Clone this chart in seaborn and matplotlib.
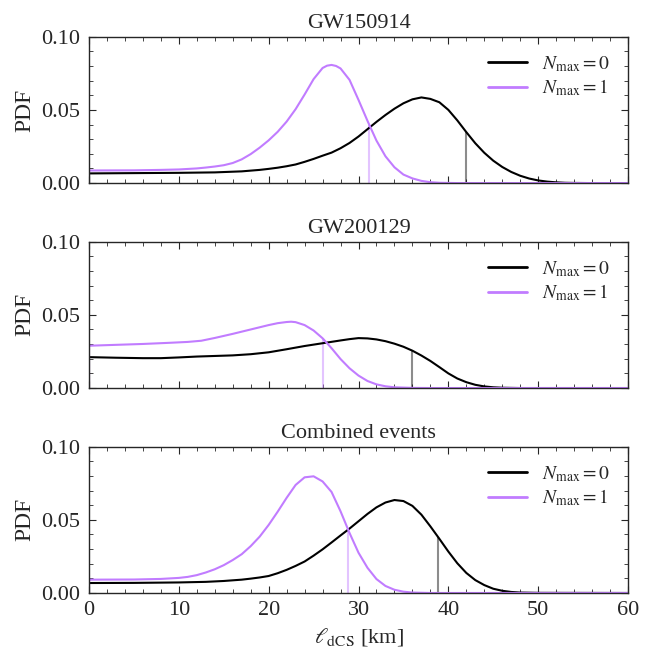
import numpy as np
import pandas as pd
import matplotlib
matplotlib.use("Agg")
import matplotlib.pyplot as plt
import seaborn as sns
from matplotlib.ticker import MultipleLocator, FormatStrFormatter

# ---------------- data ----------------
titles = ["GW150914", "GW200129", "Combined events"]
series_labels = [r"$N_{\max} = 0$", r"$N_{\max} = 1$"]

# GW150914
gw1_n0_x = [0, 5, 10, 14, 17, 19, 20, 21, 22, 23, 24, 25, 26, 27, 28, 29, 30, 31, 32, 33,
            34, 35, 36, 37, 38, 39, 40, 41, 42, 43, 44, 45, 46, 47, 48, 49, 50, 51, 52, 53,
            54, 56, 60]
gw1_n0_y = [0.0066, 0.0068, 0.0070, 0.0073, 0.0080, 0.0090, 0.0097, 0.0105, 0.0115, 0.0127,
            0.0145, 0.0165, 0.0187, 0.0208, 0.0238, 0.0274, 0.0318, 0.0368, 0.0418, 0.0465,
            0.0508, 0.0545, 0.0572, 0.0585, 0.0575, 0.0552, 0.0500, 0.0428, 0.0348, 0.0272,
            0.0207, 0.0153, 0.0110, 0.0076, 0.0050, 0.0031, 0.0018, 0.0010, 0.0005, 0.0002,
            0.0001, 0.0, 0.0]
gw1_n1_x = [0, 5, 8, 10, 12, 13, 14, 15, 16, 17, 18, 19, 20, 21, 22, 23, 24, 25, 26, 26.5,
            27, 27.5, 28, 29, 30, 31, 32, 33, 34, 35, 36, 37, 38, 39, 41, 60]
gw1_n1_y = [0.0086, 0.0087, 0.0090, 0.0093, 0.0100, 0.0106, 0.0113, 0.0122, 0.0137, 0.0162,
            0.0198, 0.0242, 0.0292, 0.0350, 0.0420, 0.0505, 0.0605, 0.0710, 0.0786, 0.0802,
            0.0807, 0.0800, 0.0783, 0.0705, 0.0568, 0.0425, 0.0290, 0.0183, 0.0108, 0.0058,
            0.0032, 0.0015, 0.0006, 0.0002, 0.0, 0.0]

# GW200129
gw2_n0_x = [0, 3, 6, 8, 10, 12, 14, 16, 18, 20, 22, 24, 26, 28, 29, 30, 31, 32, 33, 34,
            35, 36, 37, 38, 39, 40, 41, 42, 43, 44, 45, 46, 48, 60]
gw2_n0_y = [0.0211, 0.0207, 0.0204, 0.0204, 0.0209, 0.0215, 0.0219, 0.0223, 0.0231, 0.0244,
            0.0265, 0.0287, 0.0306, 0.0325, 0.0334, 0.0341, 0.0339, 0.0332, 0.0320, 0.0303,
            0.0282, 0.0255, 0.0222, 0.0185, 0.0143, 0.0100, 0.0065, 0.0040, 0.0022, 0.0011,
            0.0005, 0.0002, 0.0, 0.0]
gw2_n1_x = [0, 3, 6, 9, 11, 12.5, 14, 16, 18, 19, 20, 21, 22, 22.5, 23, 24, 25, 26, 27, 28,
            29, 30, 31, 32, 33, 34, 36, 38, 60]
gw2_n1_y = [0.0289, 0.0295, 0.0301, 0.0309, 0.0315, 0.0323, 0.0342, 0.0370, 0.0400, 0.0415,
            0.0430, 0.0443, 0.0451, 0.0453, 0.0450, 0.0430, 0.0393, 0.0340, 0.0272, 0.0198,
            0.0135, 0.0085, 0.0048, 0.0025, 0.0012, 0.0005, 0.0001, 0.0, 0.0]

# Combined events
gw3_n0_x = [0, 5, 10, 13, 15, 17, 18, 19, 20, 21, 22, 23, 24, 25, 26, 27, 28, 29, 30, 31,
            32, 33, 34, 35, 36, 37, 38, 39, 40, 41, 42, 43, 44, 45, 46, 47, 48, 50, 60]
gw3_n0_y = [0.0068, 0.0069, 0.0072, 0.0076, 0.0082, 0.0091, 0.0098, 0.0106, 0.0116, 0.0135,
            0.0158, 0.0185, 0.0215, 0.0255, 0.0298, 0.0345, 0.0393, 0.0440, 0.0490, 0.0540,
            0.0585, 0.0618, 0.0635, 0.0628, 0.0595, 0.0535, 0.0455, 0.0370, 0.0283, 0.0203,
            0.0137, 0.0088, 0.0054, 0.0029, 0.0015, 0.0007, 0.0003, 0.0001, 0.0]
gw3_n1_x = [0, 5, 8, 10, 11, 12, 13, 14, 15, 16, 17, 18, 19, 20, 21, 22, 23, 24, 25, 26,
            27, 28, 29, 30, 31, 32, 33, 34, 35, 36, 38, 60]
gw3_n1_y = [0.0091, 0.0092, 0.0096, 0.0103, 0.0110, 0.0122, 0.0140, 0.0162, 0.0190, 0.0225,
            0.0265, 0.0320, 0.0385, 0.0465, 0.0555, 0.0650, 0.0738, 0.0790, 0.0797, 0.0762,
            0.0690, 0.0558, 0.0410, 0.0275, 0.0172, 0.0095, 0.0048, 0.0022, 0.0009, 0.0003,
            0.0, 0.0]

# credible-bound markers (x position, height) for N=0 and N=1
bound_n0_x = [42.0, 36.0, 38.85]
bound_n0_h = [0.0348, 0.0255, 0.0383]
bound_n1_x = [31.2, 26.0, 28.85]
bound_n1_h = [0.0398, 0.0340, 0.0432]

panels = [
    (gw1_n0_x, gw1_n0_y, gw1_n1_x, gw1_n1_y),
    (gw2_n0_x, gw2_n0_y, gw2_n1_x, gw2_n1_y),
    (gw3_n0_x, gw3_n0_y, gw3_n1_x, gw3_n1_y),
]

# ---------------- style ----------------
sns.set_style("ticks")
plt.rcParams.update({
    "font.family": ["Liberation Serif", "DejaVu Serif"],
    "mathtext.fontset": "stix",
    "font.size": 16,
    "axes.linewidth": 1.0,
    "xtick.direction": "in",
    "ytick.direction": "in",
    "xtick.top": True,
    "ytick.right": True,
    "xtick.major.size": 5,
    "ytick.major.size": 5,
    "xtick.minor.size": 2.8,
    "ytick.minor.size": 2.8,
    "xtick.minor.visible": True,
    "ytick.minor.visible": True,
    "lines.solid_joinstyle": "round",
})

BLACK = "#000000"
PURPLE = "#c17cff"
palette = {series_labels[0]: BLACK, series_labels[1]: PURPLE}

fig, axes = plt.subplots(3, 1, figsize=(6.51, 6.48), dpi=100, sharex=True)
fig.subplots_adjust(left=0.1367, right=0.9647, top=0.9434, bottom=0.0849, hspace=0.40)

for i, (ax, (x0, y0, x1, y1)) in enumerate(zip(axes, panels)):
    df = pd.concat([
        pd.DataFrame({"x": x0, "pdf": y0, "model": series_labels[0]}),
        pd.DataFrame({"x": x1, "pdf": y1, "model": series_labels[1]}),
    ], ignore_index=True)
    sns.lineplot(data=df, x="x", y="pdf", hue="model", hue_order=series_labels,
                 palette=palette, estimator=None, sort=False, linewidth=1.5, ax=ax)
    # left-edge drop to zero
    ax.vlines(0, 0, y0[0], color=BLACK, lw=1.5)
    ax.vlines(0, 0, y1[0], color=PURPLE, lw=1.5)
    # bound markers
    ax.vlines(bound_n0_x[i], 0, bound_n0_h[i], color=BLACK, alpha=0.45, lw=1.5, zorder=1)
    ax.vlines(bound_n1_x[i], 0, bound_n1_h[i], color=PURPLE, alpha=0.45, lw=1.5, zorder=1)

    ax.set_xlim(0, 60)
    ax.set_ylim(0, 0.10)
    ax.xaxis.set_major_locator(MultipleLocator(10))
    ax.xaxis.set_minor_locator(MultipleLocator(2))
    ax.yaxis.set_major_locator(MultipleLocator(0.05))
    ax.yaxis.set_minor_locator(MultipleLocator(0.01))
    ax.yaxis.set_major_formatter(FormatStrFormatter("%.2f"))
    ax.tick_params(which="both", top=True, right=True, direction="in", labelsize=16)
    ax.tick_params(axis="y", which="major", pad=6.5)
    ax.tick_params(axis="x", which="major", pad=6)
    ax.set_title(titles[i], fontsize=16)
    ax.set_ylabel("PDF", fontsize=17)
    ax.set_xlabel("")
    leg = ax.legend(loc="upper right", frameon=False, fontsize=14, handlelength=2.0,
                    labelspacing=0.2)
    for line in leg.get_lines():
        line.set_linewidth(2.0)

axes[-1].set_xlabel(r"$\ell_{\rm dCS}$ [km]", fontsize=16)

fig.savefig("out.png", dpi=100)
